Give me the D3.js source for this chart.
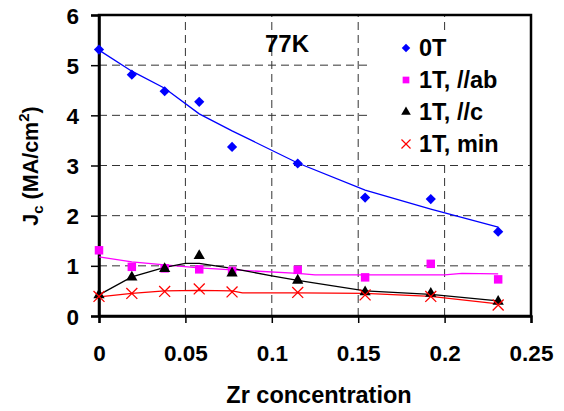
<!DOCTYPE html>
<html>
<head>
<meta charset="utf-8">
<script src="https://cdn.jsdelivr.net/npm/d3@7"></script>
<style>
  body { margin: 0; background: #fff; }
  svg text { font-family: "Liberation Sans", Arial, sans-serif; font-weight: bold; }
</style>
</head>
<body>
<div id="chart"></div>
<script>
// Zr concentration of each sample
var zr = [0, 0.019, 0.038, 0.058, 0.077, 0.115, 0.154, 0.192, 0.231];
// measured Jc (MA/cm2)
var jc0T  = [5.31, 4.81, 4.48, 4.27, 3.37, 3.04, 2.36, 2.33, 1.68];
var jcAb  = [1.31, 0.98, 0.95, 0.93, 0.90, 0.92, 0.77, 1.04, 0.73];
var jcC   = [0.42, 0.77, 0.94, 1.20, 0.85, 0.71, 0.48, 0.45, 0.29];
var jcMin = [0.39, 0.45, 0.49, 0.54, 0.48, 0.47, 0.42, 0.39, 0.22];

// trend lines
var fit0TX  = [0, 0.019, 0.038, 0.058, 0.077, 0.115, 0.154, 0.192, 0.231];
var fit0TY  = [5.30, 4.88, 4.54, 4.03, 3.69, 3.05, 2.51, 2.13, 1.77];
var fitAbX  = [0, 0.019, 0.038, 0.058, 0.077, 0.115, 0.125, 0.2, 0.21, 0.231];
var fitAbY  = [1.18, 1.08, 1.02, 0.96, 0.92, 0.85, 0.82, 0.82, 0.85, 0.84];
var fitCX   = [0, 0.019, 0.038, 0.05, 0.058, 0.077, 0.1, 0.115, 0.154, 0.192, 0.231];
var fitCY   = [0.42, 0.78, 0.97, 1.05, 1.05, 0.95, 0.80, 0.71, 0.50, 0.43, 0.30];
var fitMinX = [0, 0.019, 0.038, 0.058, 0.077, 0.083, 0.115, 0.154, 0.192, 0.231];
var fitMinY = [0.38, 0.45, 0.50, 0.51, 0.50, 0.46, 0.46, 0.45, 0.39, 0.24];

var xTicks = [0, 0.05, 0.1, 0.15, 0.2, 0.25];
var xTickLabels = ["0", "0.05", "0.1", "0.15", "0.2", "0.25"];
var yTicks = [0, 1, 2, 3, 4, 5, 6];
var legendNames = ["0T", "1T, //ab", "1T, //c", "1T, min"];

var width = 564, height = 411;
var margin = {top: 15, right: 33, bottom: 95, left: 99};

var svg = d3.select("#chart")
  .append("svg")
    .attr("width", width)
    .attr("height", height);

var x = d3.scaleLinear().domain([0, 0.25]).range([margin.left, width - margin.right]);
var y = d3.scaleLinear().domain([0, 6]).range([height - margin.bottom, margin.top]);

// grid
svg.append("g")
  .selectAll("line")
  .data(yTicks.slice(1, 6))
  .enter().append("line")
    .attr("x1", x(0)).attr("x2", x(0.25))
    .attr("y1", function(d) { return y(d); })
    .attr("y2", function(d) { return y(d); })
    .attr("stroke", "#333").attr("stroke-width", 1)
    .attr("stroke-dasharray", "8,5");
svg.append("g")
  .selectAll("line")
  .data(xTicks.slice(1, 5))
  .enter().append("line")
    .attr("y1", y(0)).attr("y2", y(6))
    .attr("x1", function(d) { return x(d); })
    .attr("x2", function(d) { return x(d); })
    .attr("stroke", "#333").attr("stroke-width", 1)
    .attr("stroke-dasharray", "8,5");

// legend background hides the grid behind it
svg.append("rect")
  .attr("x", 368).attr("y", 30)
  .attr("width", x(0.25) - 368).attr("height", 130)
  .attr("fill", "#fff");

// frame
svg.append("rect")
  .attr("x", x(0)).attr("y", y(6))
  .attr("width", x(0.25) - x(0)).attr("height", y(0) - y(6))
  .attr("fill", "none").attr("stroke", "#000").attr("stroke-width", 2.5);

// axes
var xAxis = svg.append("g")
  .attr("transform", "translate(0," + y(0) + ")")
  .call(d3.axisBottom(x).tickValues(xTicks).tickSize(7).tickPadding(22)
    .tickFormat(function(d, i) { return xTickLabels[i]; }));
var yAxis = svg.append("g")
  .attr("transform", "translate(" + x(0) + ",0)")
  .call(d3.axisLeft(y).tickValues(yTicks).tickSize(8).tickPadding(12)
    .tickFormat(d3.format("d")));
[xAxis, yAxis].forEach(function(a) {
  a.select(".domain").attr("stroke", "#000").attr("stroke-width", 2.5);
  a.selectAll(".tick line").attr("stroke", "#000").attr("stroke-width", 1.5);
  a.selectAll(".tick text")
    .attr("fill", "#000")
    .style("font-size", "22.5px")
    .style("font-family", "'Liberation Sans', Arial, sans-serif")
    .style("font-weight", "bold");
});
yAxis.selectAll(".tick text").attr("dy", "0.36em");

// fitted lines
var line = d3.line()
  .x(function(d) { return x(d[0]); })
  .y(function(d) { return y(d[1]); });
var fits = [
  {xs: fit0TX, ys: fit0TY, color: "#0000ff"},
  {xs: fitAbX, ys: fitAbY, color: "#ff00ff"},
  {xs: fitCX, ys: fitCY, color: "#000000"},
  {xs: fitMinX, ys: fitMinY, color: "#ff0000"}
];
fits.forEach(function(f) {
  svg.append("path")
    .datum(d3.zip(f.xs, f.ys))
    .attr("fill", "none")
    .attr("stroke", f.color)
    .attr("stroke-width", 1.3)
    .attr("d", line);
});

// markers
var diamond = d3.symbol().type(d3.symbolSquare).size(52);
var square = d3.symbol().type(d3.symbolSquare).size(72);
var triangle = d3.symbol().type(d3.symbolTriangle).size(55);
var cross = d3.symbol().type(d3.symbolX).size(80);

function drawMarkers(vals, sym, fill, stroke, rot) {
  svg.append("g")
    .selectAll("path")
    .data(d3.zip(zr, vals))
    .enter().append("path")
      .attr("transform", function(d) {
        return "translate(" + x(d[0]) + "," + y(d[1]) + ") rotate(" + rot + ")";
      })
      .attr("d", sym)
      .attr("fill", fill)
      .attr("stroke", stroke)
      .attr("stroke-width", stroke === "none" ? 0 : 1.3);
}
drawMarkers(jc0T, diamond, "#0000ff", "none", 45);
drawMarkers(jcAb, square, "#ff00ff", "none", 0);
drawMarkers(jcC, triangle, "#000000", "none", 0);
drawMarkers(jcMin, cross, "none", "#ff0000", 0);

// legend
var legendSyms = [
  {sym: d3.symbol().type(d3.symbolSquare).size(36), fill: "#0000ff", stroke: "none", rot: 45},
  {sym: d3.symbol().type(d3.symbolSquare).size(45), fill: "#ff00ff", stroke: "none", rot: 0},
  {sym: d3.symbol().type(d3.symbolTriangle).size(40), fill: "#000000", stroke: "none", rot: 0},
  {sym: d3.symbol().type(d3.symbolX).size(55), fill: "none", stroke: "#ff0000", rot: 0}
];
var legend = svg.append("g");
legendNames.forEach(function(name, i) {
  var ly = 48 + i * 32;
  legend.append("path")
    .attr("transform", "translate(406," + ly + ") rotate(" + legendSyms[i].rot + ")")
    .attr("d", legendSyms[i].sym)
    .attr("fill", legendSyms[i].fill)
    .attr("stroke", legendSyms[i].stroke)
    .attr("stroke-width", 1.2);
  legend.append("text")
    .attr("x", 419).attr("y", ly + 8)
    .style("font-size", "23.5px")
    .text(name);
});

// annotation
svg.append("text")
  .attr("x", 265).attr("y", 52)
  .style("font-size", "24px")
  .text("77K");

// axis titles
svg.append("text")
  .attr("x", 319).attr("y", 403)
  .attr("text-anchor", "middle")
  .style("font-size", "23.5px")
  .text("Zr concentration");

var yTitle = svg.append("text")
  .attr("transform", "translate(38,166) rotate(-90)")
  .attr("text-anchor", "middle")
  .style("font-size", "21.5px");
yTitle.append("tspan").text("J");
yTitle.append("tspan").attr("dy", 5).style("font-size", "15px").text("c");
yTitle.append("tspan").attr("dy", -5).text(" (MA/cm");
yTitle.append("tspan").attr("dy", -9).style("font-size", "15px").text("2");
yTitle.append("tspan").attr("dy", 9).text(")");
</script>
</body>
</html>
